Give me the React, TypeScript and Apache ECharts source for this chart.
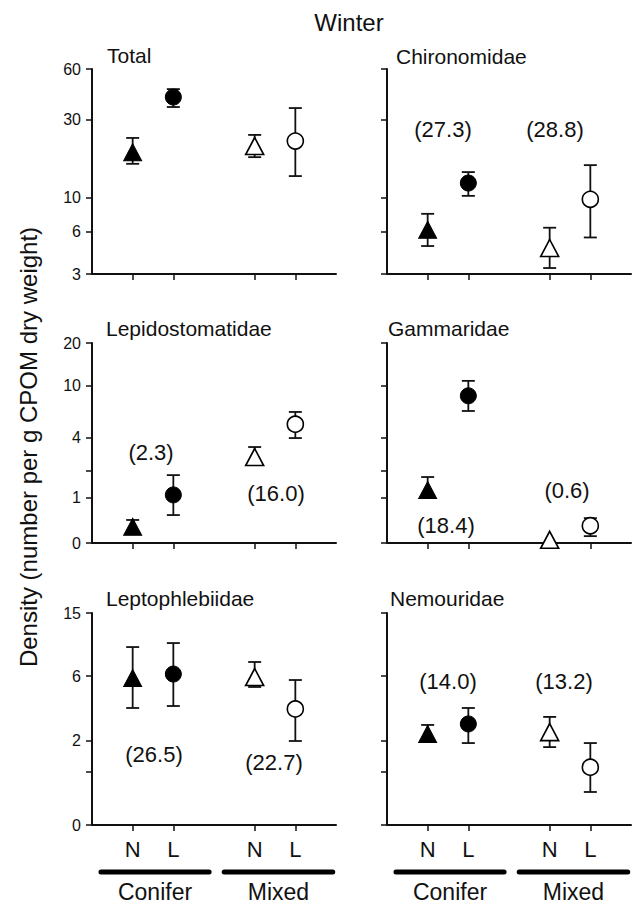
import React, { useEffect, useRef } from 'react';
import * as echarts from 'echarts';

// ---------- content / data ----------
const MAIN_TITLE = 'Winter';
const Y_TITLE = 'Density (number per g CPOM dry weight)';
const PANELS = ['Total', 'Chironomidae', 'Lepidostomatidae', 'Gammaridae', 'Leptophlebiidae', 'Nemouridae'];
const TREATMENTS = ['N', 'L', 'N', 'L'];
const POSITIONS = [1, 2, 4, 5];
const GROUPS = ['Conifer', 'Mixed'];
const FILLED = [true, true, false, false];

// mean, lower error, upper error for [Conifer N, Conifer L, Mixed N, Mixed L]
const totalMean = [19.2, 41.0, 20.9, 22.4];
const totalLow = [16.3, 35.8, 17.9, 13.7];
const totalHigh = [23.4, 45.7, 24.4, 35.3];

const chiroMean = [6.2, 12.4, 4.65, 9.8];
const chiroLow = [4.8, 10.3, 3.33, 5.5];
const chiroHigh = [7.9, 14.5, 6.4, 16.0];

const lepidoMean = [0.28, 1.08, 2.7, 5.1];
const lepidoLow = [0.2, 0.53, 2.4, 3.94];
const lepidoHigh = [0.42, 1.81, 3.31, 6.35];

const gammaMean = [1.24, 8.4, 0.05, 0.3];
const gammaLow = [1.05, 6.46, null, 0.11];
const gammaHigh = [1.73, 10.8, null, 0.46];

const leptoMean = [5.84, 6.2, 5.92, 3.56];
const leptoLow = [3.62, 3.74, 5.08, 2.0];
const leptoHigh = [9.25, 9.8, 7.43, 5.66];

const nemoMean = [2.29, 2.75, 2.37, 1.13];
const nemoLow = [2.1, 1.92, 1.77, 0.54];
const nemoHigh = [2.7, 3.62, 3.11, 1.92];

const MEANS = [totalMean, chiroMean, lepidoMean, gammaMean, leptoMean, nemoMean];
const LOWS = [totalLow, chiroLow, lepidoLow, gammaLow, leptoLow, nemoLow];
const HIGHS = [totalHigh, chiroHigh, lepidoHigh, gammaHigh, leptoHigh, nemoHigh];

// y-axis per row
const ROW_MIN = [3, 0, 0];
const ROW_MAX = [60, 20, 15];
const ROW_TICKS = [[3, 6, 10, 30, 60], [0, 1, 2, 4, 10, 20], [0, 1, 2, 6, 15]];
const ROW_LABELS = [[3, 6, 10, 30, 60], [0, 1, 4, 10, 20], [0, 2, 6, 15]];

// sample-percentage annotations per panel
const ANNOTATIONS = [[], ['(27.3)', '(28.8)'], ['(2.3)', '(16.0)'], ['(18.4)', '(0.6)'], ['(26.5)', '(22.7)'], ['(14.0)', '(13.2)']];

// ---------- layout ----------
const FONT = '"Liberation Sans", Arial, Helvetica, sans-serif';
const INK = '#111';
const GRID_LEFT = [92, 387];
const GRID_W = 244;
const ROW_TOP = [69, 343, 613];
const ROW_H = [205, 200, 212];
const X_MAX = 6;
const TITLE_POS = [[107, 55], [396, 56], [106, 328], [388, 328], [106, 598], [390, 598]];
const ANNOT_POS = [[], [[443, 129], [555, 129]], [[151, 452], [276, 493]], [[446, 525], [567, 490]], [[154, 754], [274, 762]], [[448, 681], [564, 681]]];
const GROUP_SPANS = [[0.22, 2.88], [3.25, 5.92]];
const GROUP_BAR_Y = 872;
const GROUP_LABEL_Y = 892;

const tf = (v: number) => Math.log10(v + 1);

export default function App() {
  const ref = useRef<HTMLDivElement>(null);

  useEffect(() => {
    if (!ref.current) return;
    const chart = echarts.init(ref.current, undefined, { renderer: 'svg' });

    const grids: any[] = [];
    const xAxes: any[] = [];
    const yAxes: any[] = [];
    const series: any[] = [];
    const graphics: any[] = [];

    PANELS.forEach((name, i) => {
      const row = Math.floor(i / 2);
      const col = i % 2;
      grids.push({
        left: GRID_LEFT[col], width: GRID_W, top: ROW_TOP[row], height: ROW_H[row],
        containLabel: false, outerBoundsMode: 'none',
      });
      xAxes.push({
        type: 'value', gridIndex: i, min: 0, max: X_MAX,
        axisLine: { show: true, onZero: false, lineStyle: { color: INK, width: 2 } },
        axisTick: { show: true, customValues: POSITIONS, length: 6, lineStyle: { color: INK, width: 1.5 } },
        axisLabel: row === 2 ? {
          show: true, customValues: POSITIONS, margin: 13, fontSize: 22, fontFamily: FONT, color: INK,
          formatter: (v: number) => TREATMENTS[POSITIONS.indexOf(Math.round(v))] || '',
        } : { show: false },
        splitLine: { show: false },
      });
      yAxes.push({
        type: 'value', gridIndex: i, min: tf(ROW_MIN[row]), max: tf(ROW_MAX[row]),
        axisLine: { show: true, onZero: false, lineStyle: { color: INK, width: 2 } },
        axisTick: { show: true, customValues: ROW_TICKS[row].map(tf), length: 6, lineStyle: { color: INK, width: 1.5 } },
        axisLabel: col === 0 ? {
          show: true, customValues: ROW_LABELS[row].map(tf), margin: 11, fontSize: 16, fontFamily: FONT, color: INK,
          formatter: (v: number) => String(Math.round(Math.pow(10, v) - 1)),
        } : { show: false },
        splitLine: { show: false },
      });

      const errData = POSITIONS.map((p, k) => {
        const lo = LOWS[i][k];
        const hi = HIGHS[i][k];
        return lo == null || hi == null ? [p, NaN, NaN] : [p, tf(lo), tf(hi)];
      });
      series.push({
        type: 'custom', xAxisIndex: i, yAxisIndex: i, z: 2, clip: false,
        data: errData,
        encode: { x: 0, y: [1, 2] },
        renderItem: (params: any, api: any) => {
          const x = api.value(0);
          const a = api.value(1);
          const b = api.value(2);
          if (isNaN(a) || isNaN(b)) return null;
          const lo = api.coord([x, a]);
          const hi = api.coord([x, b]);
          const w = 6.5;
          const style = { stroke: INK, lineWidth: 1.8 };
          return {
            type: 'group',
            children: [
              { type: 'line', shape: { x1: lo[0], y1: lo[1], x2: hi[0], y2: hi[1] }, style },
              { type: 'line', shape: { x1: hi[0] - w, y1: hi[1], x2: hi[0] + w, y2: hi[1] }, style },
              { type: 'line', shape: { x1: lo[0] - w, y1: lo[1], x2: lo[0] + w, y2: lo[1] }, style },
            ],
          };
        },
      });
      series.push({
        type: 'scatter', xAxisIndex: i, yAxisIndex: i, z: 3, clip: false,
        itemStyle: { opacity: 1 },
        data: POSITIONS.map((p, k) => ({
          value: [p, tf(MEANS[i][k])],
          symbol: k % 2 === 0 ? 'triangle' : 'circle',
          symbolSize: k % 2 === 0 ? [18, 17] : 16,
          itemStyle: FILLED[k]
            ? { color: '#000', borderColor: '#000', borderWidth: 1, opacity: 1 }
            : { color: '#fff', borderColor: '#000', borderWidth: 1.6, opacity: 1 },
        })),
      });

      graphics.push({
        type: 'text', x: TITLE_POS[i][0], y: TITLE_POS[i][1],
        style: { text: name, fill: INK, fontSize: 21, fontFamily: FONT, textAlign: 'left', textVerticalAlign: 'middle' },
      });
      ANNOTATIONS[i].forEach((txt, k) => {
        graphics.push({
          type: 'text', x: ANNOT_POS[i][k][0], y: ANNOT_POS[i][k][1],
          style: { text: txt, fill: INK, fontSize: 22, fontFamily: FONT, textAlign: 'center', textVerticalAlign: 'middle' },
        });
      });
    });

    // group bars & labels under bottom row
    [0, 1].forEach((col) => {
      GROUPS.forEach((g, k) => {
        const x1 = GRID_LEFT[col] + GROUP_SPANS[k][0] * GRID_W / X_MAX;
        const x2 = GRID_LEFT[col] + GROUP_SPANS[k][1] * GRID_W / X_MAX;
        graphics.push({
          type: 'line', shape: { x1, y1: GROUP_BAR_Y, x2, y2: GROUP_BAR_Y },
          style: { stroke: '#000', lineWidth: 5, lineCap: 'round' },
        });
        graphics.push({
          type: 'text', x: (x1 + x2) / 2, y: GROUP_LABEL_Y,
          style: { text: g, fill: INK, fontSize: 23, fontFamily: FONT, textAlign: 'center', textVerticalAlign: 'middle' },
        });
      });
    });

    graphics.push({
      type: 'text', x: 349, y: 22,
      style: { text: MAIN_TITLE, fill: INK, fontSize: 24, fontFamily: FONT, textAlign: 'center', textVerticalAlign: 'middle' },
    });
    graphics.push({
      type: 'text', x: 28, y: 447, rotation: Math.PI / 2,
      style: { text: Y_TITLE, fill: INK, fontSize: 24, fontFamily: FONT, textAlign: 'center', textVerticalAlign: 'middle' },
    });

    chart.setOption({
      animation: false,
      backgroundColor: '#fff',
      grid: grids,
      xAxis: xAxes,
      yAxis: yAxes,
      series,
      graphic: graphics,
    });

    return () => chart.dispose();
  }, []);

  return <div ref={ref} style={{ position: 'absolute', left: 0, top: 0, width: 635, height: 904 }} />;
}
